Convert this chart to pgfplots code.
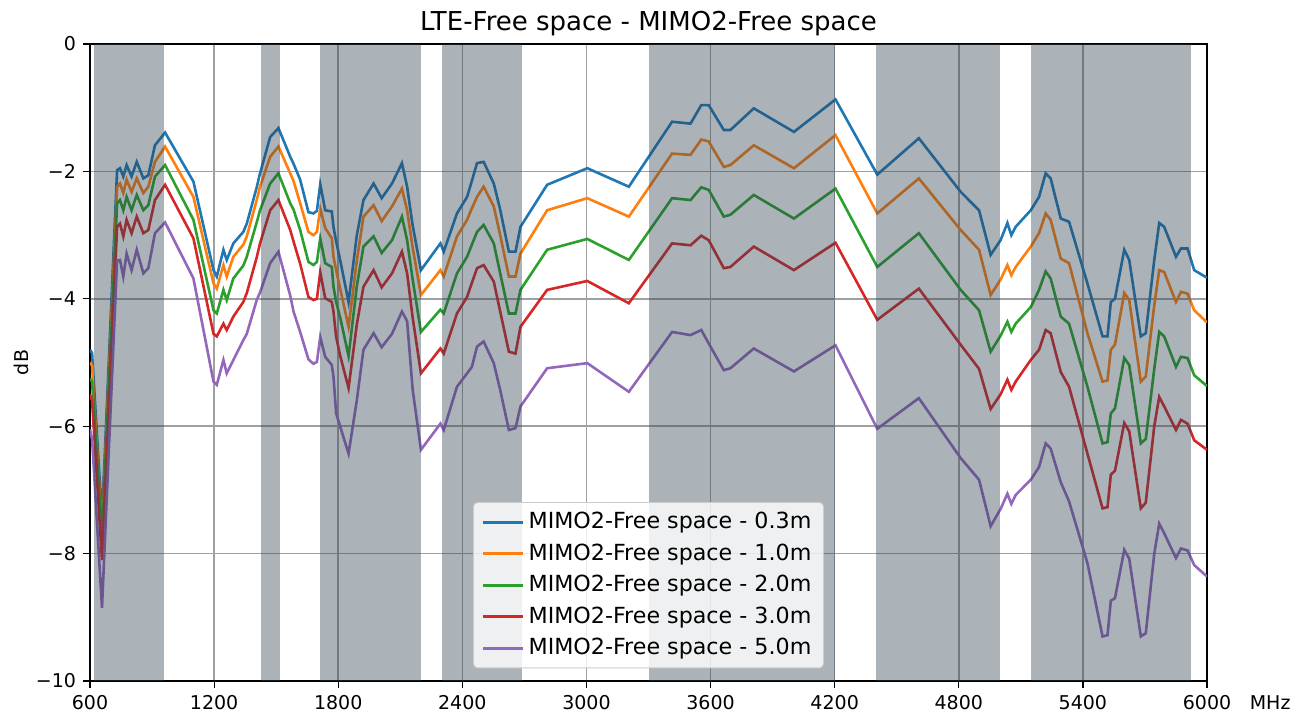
\documentclass[border=0pt]{standalone}
\usepackage{fontspec}
\setmainfont{DejaVu Sans}
\usepackage{pgfplots}
\usepackage{pgfplotstable}
\pgfplotsset{compat=1.18}
\definecolor{c0}{HTML}{1F77B4}
\definecolor{c1}{HTML}{FF7F0E}
\definecolor{c2}{HTML}{2CA02C}
\definecolor{c3}{HTML}{D62728}
\definecolor{c4}{HTML}{9467BD}
\definecolor{bandc}{RGB}{45,65,80}
\definecolor{gridc}{HTML}{A0A0A0}

\pgfplotstableread{
f    b     o     g     r     p
600  -4.80 -5.00 -5.25 -5.50 -6.05
610  -4.85 -5.05 -5.30 -5.60 -6.20
658  -7.45 -7.60 -7.75 -8.10 -8.85
731  -1.98 -2.24 -2.50 -2.87 -3.40
745  -1.95 -2.19 -2.45 -2.82 -3.39
761  -2.08 -2.34 -2.61 -3.02 -3.65
777  -1.90 -2.13 -2.40 -2.76 -3.29
801  -2.08 -2.32 -2.61 -2.97 -3.55
826  -1.85 -2.11 -2.37 -2.71 -3.23
858  -2.11 -2.34 -2.61 -2.97 -3.60
882  -2.06 -2.24 -2.53 -2.92 -3.52
914  -1.59 -1.85 -2.08 -2.45 -2.97
963  -1.39 -1.61 -1.90 -2.21 -2.80
1100 -2.16 -2.40 -2.76 -3.05 -3.68
1197 -3.55 -3.76 -4.18 -4.55 -5.30
1213 -3.65 -3.84 -4.23 -4.59 -5.35
1245 -3.23 -3.47 -3.86 -4.39 -4.96
1261 -3.39 -3.65 -4.02 -4.49 -5.17
1293 -3.13 -3.34 -3.68 -4.28 -4.96
1341 -2.95 -3.15 -3.48 -4.05 -4.65
1358 -2.82 -3.02 -3.34 -3.91 -4.55
1406 -2.25 -2.45 -2.80 -3.35 -4.02
1422 -2.03 -2.24 -2.61 -3.13 -3.90
1471 -1.46 -1.77 -2.19 -2.61 -3.44
1511 -1.32 -1.61 -2.03 -2.45 -3.26
1568 -1.77 -2.03 -2.50 -2.92 -3.95
1584 -1.88 -2.15 -2.60 -3.10 -4.20
1616 -2.13 -2.50 -2.92 -3.45 -4.52
1656 -2.64 -2.95 -3.42 -3.97 -4.95
1680 -2.66 -3.00 -3.47 -4.02 -5.02
1697 -2.62 -2.95 -3.42 -4.00 -4.99
1713 -2.20 -2.58 -3.05 -3.58 -4.60
1737 -2.61 -2.89 -3.44 -3.99 -4.91
1769 -2.63 -3.05 -3.50 -4.05 -5.04
1777 -2.87 -3.34 -3.81 -4.20 -5.22
1790 -3.10 -3.55 -4.05 -4.60 -5.80
1810 -3.40 -3.85 -4.30 -4.90 -6.01
1850 -4.05 -4.44 -4.90 -5.40 -6.43
1890 -3.00 -3.40 -3.80 -4.40 -5.59
1922 -2.45 -2.71 -3.18 -3.81 -4.80
1971 -2.19 -2.53 -3.02 -3.55 -4.54
2010 -2.42 -2.78 -3.28 -3.82 -4.76
2060 -2.19 -2.55 -3.08 -3.60 -4.55
2108 -1.87 -2.27 -2.71 -3.26 -4.20
2133 -2.24 -2.61 -3.08 -3.60 -4.35
2160 -2.85 -3.20 -3.70 -4.30 -5.43
2200 -3.55 -3.94 -4.52 -5.17 -6.37
2294 -3.13 -3.55 -4.17 -4.78 -5.96
2310 -3.26 -3.65 -4.23 -4.86 -6.06
2374 -2.66 -3.02 -3.60 -4.23 -5.38
2423 -2.40 -2.76 -3.34 -3.97 -5.17
2446 -2.15 -2.58 -3.15 -3.75 -5.07
2471 -1.87 -2.40 -2.95 -3.52 -4.75
2503 -1.85 -2.24 -2.84 -3.47 -4.67
2552 -2.19 -2.55 -3.13 -3.73 -5.01
2583 -2.60 -3.00 -3.60 -4.20 -5.43
2625 -3.26 -3.65 -4.23 -4.83 -6.06
2657 -3.26 -3.65 -4.23 -4.86 -6.03
2681 -2.87 -3.29 -3.86 -4.44 -5.69
2810 -2.21 -2.61 -3.23 -3.86 -5.09
3004 -1.95 -2.42 -3.06 -3.72 -5.01
3205 -2.24 -2.71 -3.39 -4.07 -5.46
3414 -1.22 -1.72 -2.42 -3.13 -4.52
3503 -1.25 -1.74 -2.45 -3.16 -4.57
3555 -0.96 -1.50 -2.25 -3.01 -4.49
3591 -0.96 -1.53 -2.29 -3.08 -4.70
3664 -1.35 -1.93 -2.71 -3.52 -5.12
3696 -1.35 -1.90 -2.68 -3.50 -5.09
3809 -1.01 -1.59 -2.37 -3.18 -4.78
4003 -1.38 -1.95 -2.74 -3.55 -5.14
4204 -0.87 -1.43 -2.27 -3.12 -4.73
4406 -2.05 -2.66 -3.50 -4.33 -6.04
4607 -1.48 -2.11 -2.97 -3.84 -5.56
4809 -2.32 -2.92 -3.86 -4.72 -6.50
4898 -2.61 -3.23 -4.18 -5.10 -6.84
4954 -3.31 -3.94 -4.83 -5.73 -7.57
5002 -3.08 -3.70 -4.58 -5.50 -7.30
5035 -2.81 -3.47 -4.36 -5.27 -7.06
5054 -3.00 -3.63 -4.52 -5.43 -7.22
5075 -2.87 -3.50 -4.39 -5.30 -7.08
5148 -2.61 -3.18 -4.13 -4.96 -6.84
5188 -2.40 -2.97 -3.86 -4.80 -6.64
5220 -2.03 -2.66 -3.57 -4.49 -6.27
5244 -2.11 -2.76 -3.68 -4.54 -6.35
5293 -2.74 -3.37 -4.28 -5.15 -6.88
5333 -2.79 -3.44 -4.39 -5.38 -7.18
5422 -3.76 -4.54 -5.38 -6.43 -8.15
5495 -4.59 -5.30 -6.27 -7.29 -9.30
5519 -4.59 -5.28 -6.25 -7.27 -9.28
5535 -4.05 -4.80 -5.80 -6.76 -8.74
5555 -4.00 -4.72 -5.72 -6.70 -8.70
5600 -3.23 -3.91 -4.93 -5.95 -7.94
5624 -3.39 -4.02 -5.04 -6.08 -8.08
5680 -4.59 -5.30 -6.27 -7.29 -9.30
5704 -4.54 -5.22 -6.20 -7.20 -9.25
5745 -3.39 -4.10 -5.10 -6.00 -8.00
5769 -2.81 -3.55 -4.52 -5.54 -7.53
5793 -2.87 -3.58 -4.59 -5.69 -7.68
5850 -3.34 -4.05 -5.07 -6.06 -8.07
5874 -3.21 -3.89 -4.91 -5.90 -7.92
5906 -3.21 -3.92 -4.93 -5.96 -7.95
5938 -3.55 -4.18 -5.20 -6.22 -8.18
6000 -3.67 -4.37 -5.37 -6.37 -8.36
}\data

\begin{document}
\begin{tikzpicture}
\useasboundingbox (-45pt,-19.5pt) rectangle (607.5pt,340.5pt);
\begin{axis}[
  scale only axis, width=558.5pt, height=318.5pt,
  xmin=600, xmax=6000, ymin=-10, ymax=0,
  xtick={600,1200,...,6000},
  ytick={-10,-8,-6,-4,-2,0},
  yticklabels={−10,−8,−6,−4,−2,0},
  scaled ticks=false,
  /pgf/number format/1000 sep={},
  /pgf/number format/assume math mode=true,
  grid=major,
  major grid style={color=gridc, line width=0.8pt},
  axis line style={line width=0.6pt},
  tick align=outside, tick pos=left, major tick length=3.5pt,
  tick style={black, line width=0.6pt},
  ticklabel style={font=\fontsize{9.5}{11}\selectfont},
  title={LTE-Free space - MIMO2-Free space},
  title style={font=\fontsize{13}{15}\selectfont, at={(axis description cs:0.5,1)}, anchor=base, yshift=1pt},
  ylabel={dB},
  ylabel style={font=\fontsize{9.5}{11}\selectfont, at={(axis description cs:-0.061,0.5)}, anchor=center},
  xlabel={MHz},
  xlabel style={font=\fontsize{9.5}{11}\selectfont, at={(axis description cs:1.032,-0.0345)}, anchor=west},
  legend style={at={(axis description cs:0.5,0.02)}, anchor=south,
    font=\fontsize{11.1}{13}\selectfont, fill=white, fill opacity=0.8, text opacity=1,
    draw=black!20, rounded corners=2pt, row sep=2.0pt,
    inner xsep=4pt, inner ysep=3pt},
  legend cell align=left,
  legend image code/.code={\draw[#1, line width=1.5pt] (0pt,0pt) -- (20pt,0pt);},
  every axis plot/.append style={line width=1.3pt},
]
\addplot[c0] table[x=f, y=b] {\data};
\addlegendentry{MIMO2-Free space - 0.3m}
\addplot[c1] table[x=f, y=o] {\data};
\addlegendentry{MIMO2-Free space - 1.0m}
\addplot[c2] table[x=f, y=g] {\data};
\addlegendentry{MIMO2-Free space - 2.0m}
\addplot[c3] table[x=f, y=r] {\data};
\addlegendentry{MIMO2-Free space - 3.0m}
\addplot[c4] table[x=f, y=p] {\data};
\addlegendentry{MIMO2-Free space - 5.0m}
\addplot[draw=none, fill=bandc, fill opacity=0.4, forget plot] coordinates {(617,-10) (960,-10)} \closedcycle;
\addplot[draw=none, fill=bandc, fill opacity=0.4, forget plot] coordinates {(1427,-10) (1518,-10)} \closedcycle;
\addplot[draw=none, fill=bandc, fill opacity=0.4, forget plot] coordinates {(1710,-10) (2200,-10)} \closedcycle;
\addplot[draw=none, fill=bandc, fill opacity=0.4, forget plot] coordinates {(2300,-10) (2690,-10)} \closedcycle;
\addplot[draw=none, fill=bandc, fill opacity=0.4, forget plot] coordinates {(3300,-10) (4200,-10)} \closedcycle;
\addplot[draw=none, fill=bandc, fill opacity=0.4, forget plot] coordinates {(4400,-10) (5000,-10)} \closedcycle;
\addplot[draw=none, fill=bandc, fill opacity=0.4, forget plot] coordinates {(5150,-10) (5925,-10)} \closedcycle;
\end{axis}
\end{tikzpicture}
\end{document}
